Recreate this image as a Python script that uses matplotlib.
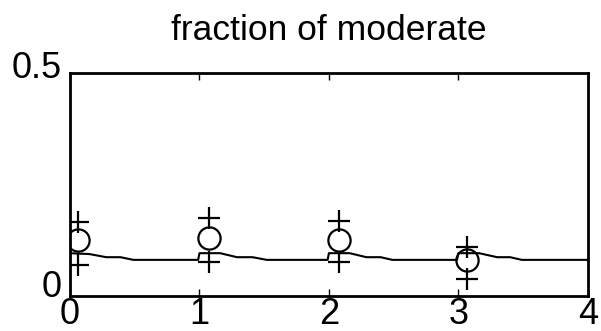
import numpy as np
import matplotlib.pyplot as plt
import matplotlib.transforms as mtransforms

plt.rcParams['font.family'] = ['Liberation Sans', 'DejaVu Sans']

# observed fractions with upper / lower bounds
obs_x = [0.06, 1.07, 2.08, 3.07]
obs_mid = [0.126, 0.130, 0.126, 0.081]
obs_hi = [0.166, 0.175, 0.168, 0.110]
obs_lo = [0.070, 0.076, 0.076, 0.038]

# model curve
model_x = [0.0, 0.15, 0.28, 0.39, 0.49, 0.99, 1.0, 1.16, 1.29, 1.41, 1.52,
           1.99, 2.0, 2.16, 2.29, 2.40, 2.49, 2.99, 3.0, 3.16, 3.30, 3.40, 3.49, 4.0]
model_y = [0.096, 0.094, 0.087, 0.087, 0.081, 0.081, 0.096, 0.096, 0.087, 0.087, 0.081,
           0.081, 0.096, 0.096, 0.087, 0.087, 0.081, 0.081, 0.096, 0.096, 0.087, 0.087,
           0.081, 0.081]

fig = plt.figure(figsize=(6.01, 3.31), dpi=100)
ax = fig.add_axes([0.1165, 0.1057, 0.8615, 0.674])

ax.plot(model_x, model_y, color='black', lw=1.5)
ax.plot(obs_x, obs_mid, 'o', mfc='none', mec='black', ms=16, mew=1.6)
ax.plot(obs_x, obs_hi, '+', color='black', ms=16, mew=1.6)
ax.plot(obs_x, obs_lo, '+', color='black', ms=16, mew=1.6)

ax.set_xlim(0, 4)
ax.set_ylim(0, 0.5)
ax.set_xticks([0, 1, 2, 3, 4])
ax.set_xticklabels(['0', '1', '2', '3', '4'])
ax.set_yticks([0, 0.5])
ax.set_yticklabels(['0', '0.5'])
ax.tick_params(direction='in', length=5, width=1, labelsize=26, top=True, pad=1)
ax.tick_params(axis='y', length=0, pad=6)
for s in ax.spines.values():
    s.set_linewidth(2)

# y labels sit a little above their tick positions
for lab, dy in zip(ax.get_yticklabels(), [13, 8]):
    lab.set_transform(lab.get_transform() + mtransforms.ScaledTranslation(0, dy / 100, fig.dpi_scale_trans))

ax.set_title('fraction of moderate', fontsize=25.5, pad=24)

fig.savefig('out.png', dpi=100)
